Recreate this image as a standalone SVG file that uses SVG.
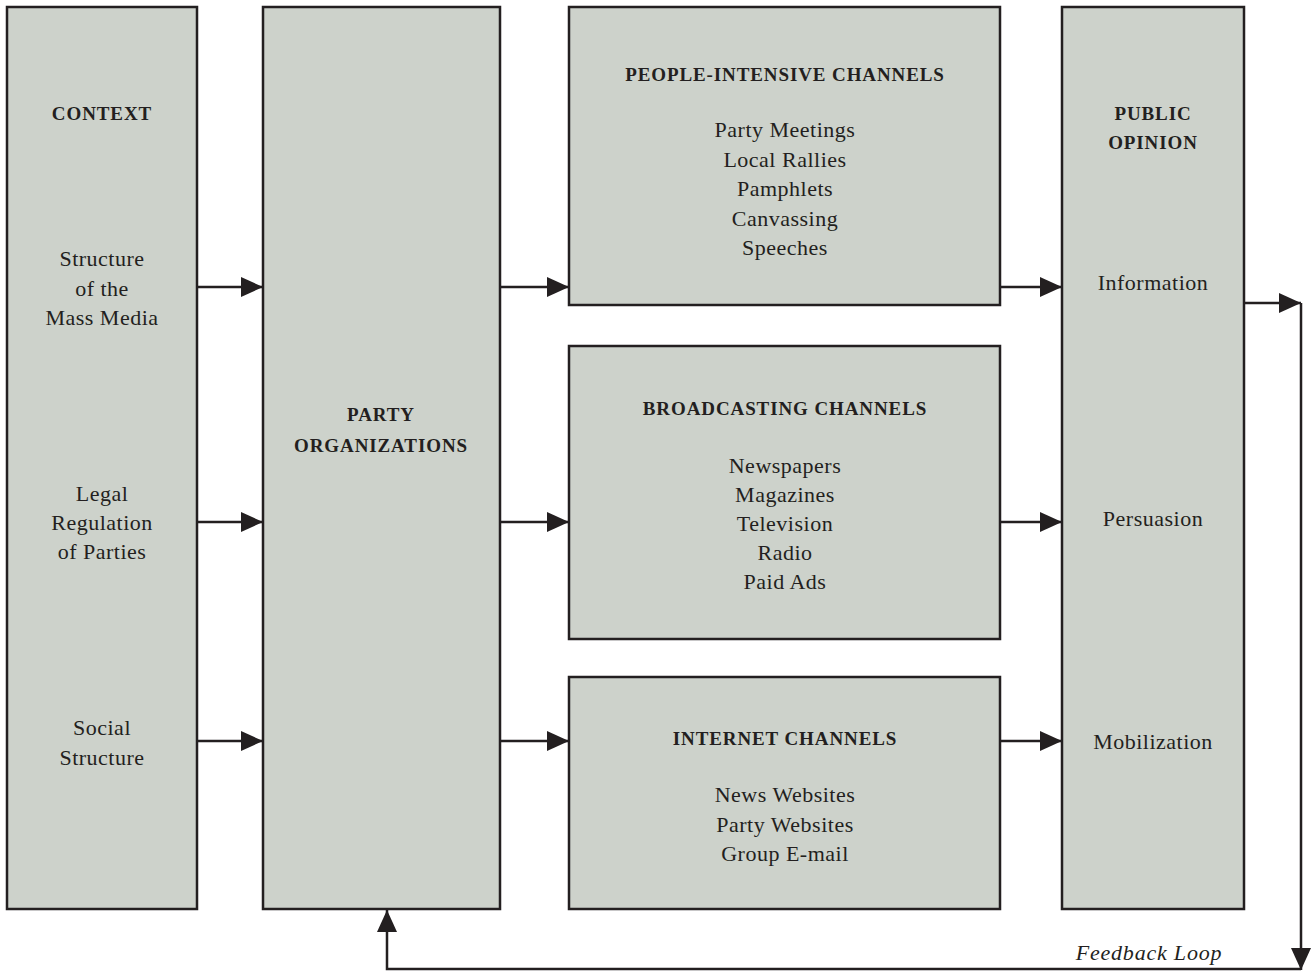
<svg xmlns="http://www.w3.org/2000/svg" width="1313" height="972" viewBox="0 0 1313 972">
<style>
.box{fill:#cdd2cb;stroke:#231f20;stroke-width:2.5}
.t{font-family:"Liberation Serif",serif;font-size:22px;letter-spacing:0.5px;fill:#231f20;text-anchor:middle}
.h{font-family:"Liberation Serif",serif;font-size:19px;letter-spacing:0.9px;font-weight:bold;fill:#231f20;text-anchor:middle}
.c{fill:none;stroke:#231f20;stroke-width:2.5}
.fl{font-family:"Liberation Serif",serif;font-size:22px;letter-spacing:0.8px;font-style:italic;fill:#231f20;text-anchor:middle}
</style>
<defs>
<marker id="ah" markerUnits="userSpaceOnUse" markerWidth="22" markerHeight="20" refX="22" refY="10" orient="auto">
<path d="M0,0 L22,10 L0,20 Z" fill="#231f20"/>
</marker>
</defs>
<rect width="1313" height="972" fill="#ffffff"/>
<g id="context">
<rect class="box" x="7" y="7" width="190" height="902"/>
<text class="h" x="102" y="120">CONTEXT</text>
<text class="t" x="102" y="266">Structure</text>
<text class="t" x="102" y="296">of the</text>
<text class="t" x="102" y="325">Mass Media</text>
<text class="t" x="102" y="501">Legal</text>
<text class="t" x="102" y="530">Regulation</text>
<text class="t" x="102" y="559">of Parties</text>
<text class="t" x="102" y="735">Social</text>
<text class="t" x="102" y="765">Structure</text>
</g>
<g id="party">
<rect class="box" x="263" y="7" width="237" height="902"/>
<text class="h" x="381" y="421">PARTY</text>
<text class="h" x="381" y="452">ORGANIZATIONS</text>
</g>
<g id="people">
<rect class="box" x="569" y="7" width="431" height="298"/>
<text class="h" x="785" y="81">PEOPLE-INTENSIVE CHANNELS</text>
<text class="t" x="785" y="137">Party Meetings</text>
<text class="t" x="785" y="167">Local Rallies</text>
<text class="t" x="785" y="196">Pamphlets</text>
<text class="t" x="785" y="226">Canvassing</text>
<text class="t" x="785" y="255">Speeches</text>
</g>
<g id="broadcasting">
<rect class="box" x="569" y="346" width="431" height="293"/>
<text class="h" x="785" y="415">BROADCASTING CHANNELS</text>
<text class="t" x="785" y="473">Newspapers</text>
<text class="t" x="785" y="502">Magazines</text>
<text class="t" x="785" y="531">Television</text>
<text class="t" x="785" y="560">Radio</text>
<text class="t" x="785" y="589">Paid Ads</text>
</g>
<g id="internet">
<rect class="box" x="569" y="677" width="431" height="232"/>
<text class="h" x="785" y="745">INTERNET CHANNELS</text>
<text class="t" x="785" y="802">News Websites</text>
<text class="t" x="785" y="832">Party Websites</text>
<text class="t" x="785" y="861">Group E-mail</text>
</g>
<g id="public">
<rect class="box" x="1062" y="7" width="182" height="902"/>
<text class="h" x="1153" y="120">PUBLIC</text>
<text class="h" x="1153" y="149">OPINION</text>
<text class="t" x="1153" y="290">Information</text>
<text class="t" x="1153" y="526">Persuasion</text>
<text class="t" x="1153" y="749">Mobilization</text>
</g>
<g id="connectors">
<line class="c" x1="197" y1="287" x2="263" y2="287" marker-end="url(#ah)"/>
<line class="c" x1="197" y1="522" x2="263" y2="522" marker-end="url(#ah)"/>
<line class="c" x1="197" y1="741" x2="263" y2="741" marker-end="url(#ah)"/>
<line class="c" x1="500" y1="287" x2="569" y2="287" marker-end="url(#ah)"/>
<line class="c" x1="500" y1="522" x2="569" y2="522" marker-end="url(#ah)"/>
<line class="c" x1="500" y1="741" x2="569" y2="741" marker-end="url(#ah)"/>
<line class="c" x1="1000" y1="287" x2="1062" y2="287" marker-end="url(#ah)"/>
<line class="c" x1="1000" y1="522" x2="1062" y2="522" marker-end="url(#ah)"/>
<line class="c" x1="1000" y1="741" x2="1062" y2="741" marker-end="url(#ah)"/>
<line class="c" x1="1244" y1="303" x2="1301" y2="303" marker-end="url(#ah)"/>
<line class="c" x1="1301" y1="303" x2="1301" y2="970" marker-end="url(#ah)"/>
<polyline class="c" points="1301,969 387,969 387,910" marker-end="url(#ah)"/>
<text class="fl" x="1149" y="960">Feedback Loop</text>
</g>
</svg>
